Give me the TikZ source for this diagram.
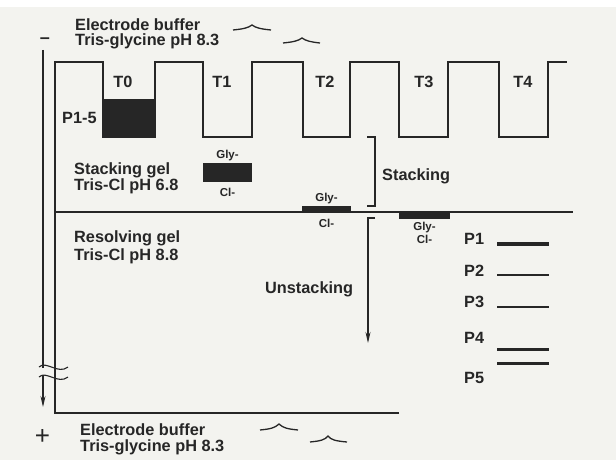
\documentclass[tikz,border=0pt]{standalone}
\usepackage{fontspec}
\setmainfont{Liberation Sans}
\usepackage{tikz}
\usetikzlibrary{arrows.meta, calc, positioning}
\definecolor{paper}{RGB}{243,243,239}
\definecolor{ink}{RGB}{38,38,38}

\begin{document}
\begin{tikzpicture}[
    x=1pt, y=-1pt,
    lbl/.style={font=\fontsize{16.3}{15.5}\selectfont\bfseries, text=ink,
                inner sep=0pt, align=left},
    ion/.style={font=\fontsize{11.5}{11.5}\selectfont\bfseries, text=ink, inner sep=0pt},
    band/.style={fill=ink, draw=none, inner sep=0pt},
    gel/.style={draw=ink, line width=1.3pt, line join=miter},
    pband/.style={draw=ink, line width=#1},
    arrow/.style={-{Stealth[length=11pt, width=5pt]}, line width=1.1pt, draw=ink},
    hat/.style={draw=ink, line width=1.3pt},
]
% page
\fill[paper] (0,0) rectangle (616,460);
\fill[white] (0,0) rectangle (616,7);

% gel with comb wells
\draw[gel] (399,413) -- (55,413) -- (55,62) -- (103,62) -- (103,137) -- (155,137)
    -- (155,62) -- (203,62) -- (203,137) -- (252,137) -- (252,62) -- (303,62)
    -- (303,137) -- (350,137) -- (350,62) -- (399,62) -- (399,137) -- (448,137)
    -- (448,62) -- (499,62) -- (499,137) -- (548,137) -- (548,62) -- (567,62);
\draw[gel, line width=1.8pt] (55,212) -- (573,212);

% electrode buffers
\node[lbl, anchor=north west] (buftop) at (75,18.3) {Electrode buffer\\Tris-glycine pH 8.3};
\node[lbl, anchor=north west] (bufbot) at (80,423.5) {Electrode buffer\\Tris-glycine pH 8.3};
\node[lbl, font=\fontsize{18}{18}\selectfont\bfseries] (cathode) at (45,41) {–};
\node[lbl, font=\fontsize{26}{26}\selectfont] (anode) at (42.5,437) {+};

\draw[hat] (233,30) .. controls (243,29) and (248,28) .. (252,25) .. controls (256,28) and (261,29) .. (271,30);
\draw[hat] (283,43) .. controls (293,42) and (298,41) .. (302,38) .. controls (306,41) and (311,42) .. (320,43);
\draw[hat] (260,430) .. controls (270,429) and (275,428) .. (279,424) .. controls (283,428) and (288,429) .. (298,430);
\draw[hat] (310,442) .. controls (320,441) and (325,440) .. (328,436) .. controls (331,440) and (336,441) .. (347,442);

% running direction
\coordinate (run-top) at (43,50);
\coordinate (run-end) at (43,407);
\draw[ink, line width=1.1pt] (run-top) -- (43,368);
\draw[arrow] (43,376) -- (run-end);
\draw[ink, line width=1.1pt] (39,367) .. controls (46,360) and (58,375) .. (68,367);
\draw[ink, line width=1.1pt] (39,377) .. controls (46,370) and (58,385) .. (68,377);

% wells
\node[lbl, anchor=base] (t0) at (123,88) {T0};
\node[lbl, anchor=base] (t1) at (222,88) {T1};
\node[lbl, anchor=base] (t2) at (325,88) {T2};
\node[lbl, anchor=base] (t3) at (424,88) {T3};
\node[lbl, anchor=base] (t4) at (523,88) {T4};

% sample at T0
\node[band, minimum width=51pt, minimum height=38pt] (s0) at (129.5,118) {};
\node[lbl, left=7pt of s0] (p15) {P1-5};

% stack at T1
\node[band, minimum width=49pt, minimum height=19pt] (s1) at (227.5,172) {};
\node[ion, above=1.5pt of s1] (gly1) {Gly-};
\node[ion, below=6pt of s1] (cl1) {Cl-};

% stack at T2
\node[band, minimum width=49pt, minimum height=6pt] (s2) at (326.5,209) {};
\node[ion, above=1.5pt of s2] (gly2) {Gly-};
\node[ion, below=7pt of s2] (cl2) {Cl-};

% stack at T3
\node[band, minimum width=51pt, minimum height=6pt] (s3) at (424.5,216) {};
\node[ion, below=3pt of s3] (gly3) {Gly-};
\node[ion, below=1.5pt of gly3] (cl3) {Cl-};

% gel labels
\node[lbl, anchor=north west] (stackgel) at (74,162.5) {Stacking gel\\Tris-Cl pH 6.8};
\node[lbl, anchor=north west, font=\fontsize{16.3}{18}\selectfont\bfseries] (resgel) at (74,230.5) {Resolving gel\\Tris-Cl pH 8.8};

% stacking / unstacking
\draw[gel, line width=1.2pt] (367,137) -- (375,137) -- (375,206) -- (367,206);
\node[lbl, anchor=base west] (stacking) at (382,180) {Stacking};
\coordinate (unst-top) at (375,218);
\coordinate (unst-end) at (368,343);
\draw[arrow] (unst-top) -- (368,218) -- (unst-end);
\node[lbl, anchor=base west] (unstacking) at (265,293) {Unstacking};

% separated proteins
\node[lbl, anchor=base west] (p1) at (464,244) {P1};
\node[lbl, anchor=base west] (p2) at (464,276) {P2};
\node[lbl, anchor=base west] (p3) at (464,307) {P3};
\node[lbl, anchor=base west] (p4) at (464,343) {P4};
\node[lbl, anchor=base west] (p5) at (464,383) {P5};
\draw[pband=3.5pt] (497,244) -- (549,244);
\draw[pband=2.5pt] (497,275) -- (549,275);
\draw[pband=2pt] (497,306.5) -- (549,306.5);
\draw[pband=3pt] (497,349) -- (549,349);
\draw[pband=3pt] (497,363.5) -- (549,363.5);
\end{tikzpicture}
\end{document}
